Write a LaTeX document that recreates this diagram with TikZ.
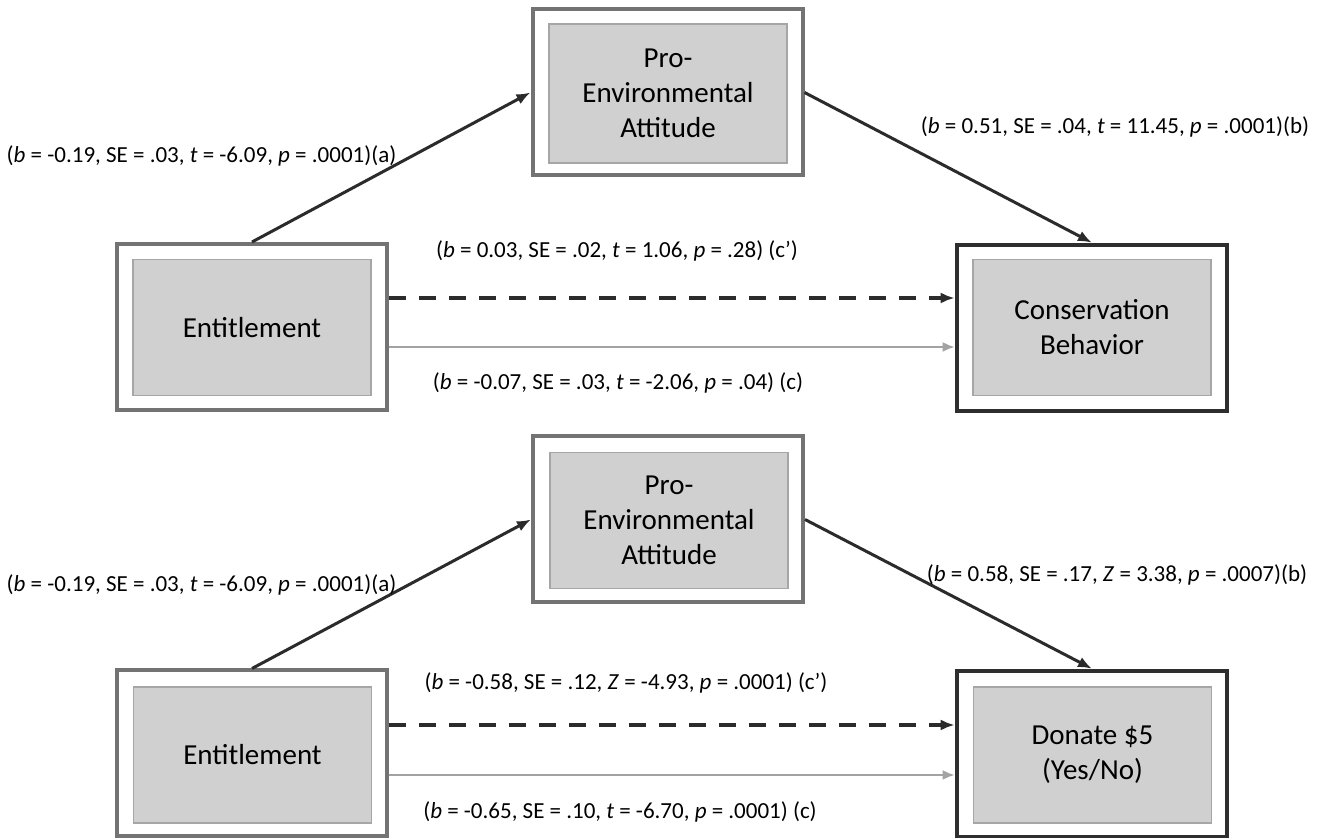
\documentclass[tikz,border=0pt]{standalone}
\usepackage{fontspec}
\setmainfont{Carlito}
\usetikzlibrary{arrows.meta}
\definecolor{outergray}{HTML}{737373}
\definecolor{darkborder}{HTML}{2E2E2E}
\definecolor{boxfill}{HTML}{D0D0D0}
\definecolor{innerline}{HTML}{A6A6A6}
\definecolor{arrowdark}{HTML}{2B2B2B}
\definecolor{arrowgray}{HTML}{A3A3A3}
\tikzset{
  outerbox/.style={draw=outergray, line width=2pt, minimum width=135pt, minimum height=83pt, inner sep=0pt},
  outerdark/.style={outerbox, draw=darkborder, line width=2.3pt},
  innerbox/.style={draw=innerline, line width=0.8pt, fill=boxfill, minimum width=119pt, minimum height=68pt, inner sep=0pt, align=center, font=\fontsize{14.5}{17.5}\selectfont},
  pathlbl/.style={inner sep=0pt, font=\fontsize{11.5}{14}\selectfont},
  solidarrow/.style={draw=arrowdark, line width=1.5pt, -{Latex[length=7pt,width=5.5pt]}},
  dasharrow/.style={draw=arrowdark, line width=1.6pt, dash pattern=on 8.5pt off 6.5pt, -{Latex[length=7pt,width=5.5pt]}},
  grayarrow/.style={draw=arrowgray, line width=1.1pt, -{Latex[length=6pt,width=5pt]}}
}
\newcommand{\st}[5]{(\textit{b} = #1, SE = #2, \textit{#3} = #4, \textit{p} = #5)}
\begin{document}
\begin{tikzpicture}[x=0.5pt,y=-0.5pt]
\useasboundingbox[fill=white] (0,0) rectangle (1319,838);
% ---------- top panel ----------
\node[outerbox] (ent1) at (252,327) {};
\node[innerbox] (ent1in) at (252,327.5) {Entitlement};
\node[outerbox] (pro1) at (667.5,92.5) {};
\node[innerbox, minimum height=69.5pt] (pro1in) at (668,93.5) {Pro-\\Environmental\\Attitude};
\node[outerdark] (con1) at (1092,328) {};
\node[innerbox] (con1in) at (1092,327.5) {Conservation\\Behavior};

\draw[solidarrow] (ent1.north) -- (pro1.west);
\draw[solidarrow] (pro1.east) -- (con1.north);
\draw[dasharrow] ([yshift=14.5pt]ent1.east) -- ([yshift=14.5pt]ent1.east -| con1.west);
\draw[grayarrow] ([yshift=-10pt]ent1.east) -- ([yshift=-10pt]ent1.east -| con1.west);

\node[pathlbl] (la1) at (201.5,156) {\st{-0.19}{.03}{t}{-6.09}{.0001}(a)};
\node[pathlbl] (lb1) at (1115,127) {\st{0.51}{.04}{t}{11.45}{.0001}(b)};
\node[pathlbl] (lcp1) at (617,251) {\st{0.03}{.02}{t}{1.06}{.28} (c’)};
\node[pathlbl] (lc1) at (618,383) {\st{-0.07}{.03}{t}{-2.06}{.04} (c)};

% ---------- bottom panel ----------
\node[outerbox] (ent2) at (252,753.5) {};
\node[innerbox] (ent2in) at (252.5,755) {Entitlement};
\node[outerbox] (pro2) at (668,519.5) {};
\node[innerbox] (pro2in) at (669,520.5) {Pro-\\Environmental\\Attitude};
\node[outerdark] (don2) at (1092,754) {};
\node[innerbox] (don2in) at (1092.5,755) {Donate \$5\\(Yes/No)};

\draw[solidarrow] (ent2.north) -- (pro2.west);
\draw[solidarrow] (pro2.east) -- (don2.north);
\draw[dasharrow] ([yshift=14.25pt]ent2.east) -- ([yshift=14.25pt]ent2.east -| don2.west);
\draw[grayarrow] ([yshift=-10.75pt]ent2.east) -- ([yshift=-10.75pt]ent2.east -| don2.west);

\node[pathlbl] (la2) at (201.5,585) {\st{-0.19}{.03}{t}{-6.09}{.0001}(a)};
\node[pathlbl] (lb2) at (1117,575) {\st{0.58}{.17}{Z}{3.38}{.0007}(b)};
\node[pathlbl] (lcp2) at (626,683) {\st{-0.58}{.12}{Z}{-4.93}{.0001} (c’)};
\node[pathlbl] (lc2) at (620,812) {\st{-0.65}{.10}{t}{-6.70}{.0001} (c)};
\end{tikzpicture}
\end{document}
